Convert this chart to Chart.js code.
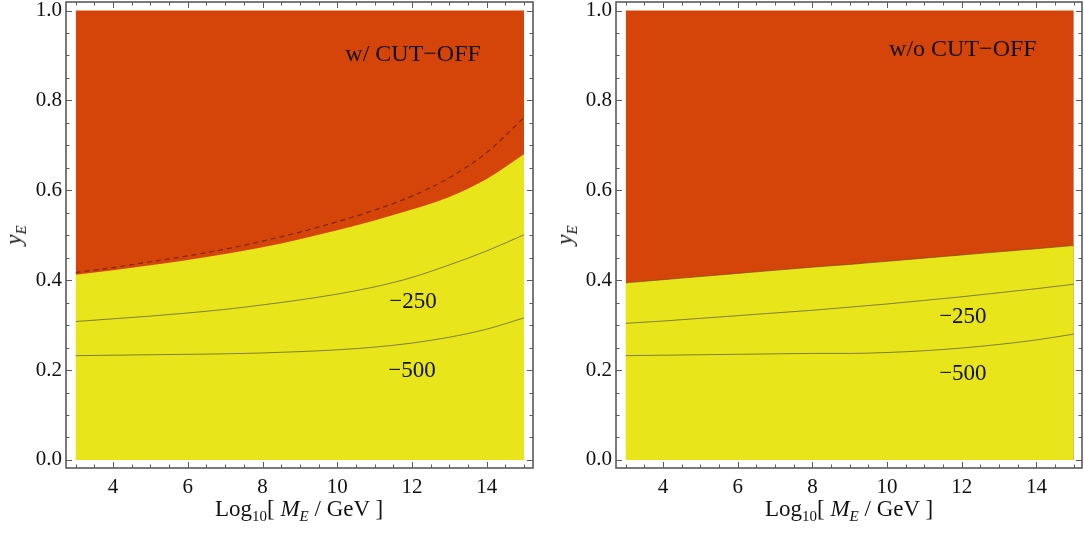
<!DOCTYPE html>
<html>
<head>
<meta charset="utf-8">
<script src="https://cdn.jsdelivr.net/npm/chart.js@4.4.1/dist/chart.umd.min.js"></script>
<style>
    body { margin: 0; background: #fff; width: 1084px; height: 539px; position: relative; overflow: hidden; font-family: "Liberation Serif", serif; }
    canvas { position: absolute; top: 0; }
    .xtitle { position: absolute; top: 497px; font-size: 23px; line-height: 23px; white-space: nowrap; transform: translateX(-50%); color: #111; }
    .ytitle { position: absolute; font-size: 23px; line-height: 23px; white-space: nowrap; transform: translate(-50%, -50%) rotate(-90deg); color: #111; }
    sub { font-size: 15px; vertical-align: baseline; position: relative; top: 5px; }
</style>
</head>
<body>
<canvas id="leftChart" width="542" height="539" style="left:0"></canvas>
<canvas id="rightChart" width="542" height="539" style="left:542px"></canvas>

<div class="xtitle" style="left:299px">Log<sub>10</sub>[ <i>M<sub>E</sub></i> / GeV ]</div>
<div class="xtitle" style="left:849px">Log<sub>10</sub>[ <i>M<sub>E</sub></i> / GeV ]</div>
<div class="ytitle" style="left:15px; top:235px"><i>y<sub>E</sub></i></div>
<div class="ytitle" style="left:566px; top:235px"><i>y<sub>E</sub></i></div>

<script>
// x grid of Log10[M_E / GeV]
const xValues = [3, 4, 5, 6, 7, 8, 9, 10, 11, 12, 13, 14, 15];
const yTop = [1, 1, 1, 1, 1, 1, 1, 1, 1, 1, 1, 1, 1];

// Tick labels
const xTickLabels = [4, 6, 8, 10, 12, 14];
const yTickLabels = [0.0, 0.2, 0.4, 0.6, 0.8, 1.0];

// w/ CUT-OFF panel
const cutBoundary = [0.412, 0.422, 0.433, 0.445, 0.458, 0.473, 0.491, 0.511, 0.533, 0.557, 0.585, 0.625, 0.680];
const cutDashed   = [0.417, 0.428, 0.441, 0.454, 0.469, 0.487, 0.507, 0.530, 0.556, 0.587, 0.628, 0.684, 0.762];
const cut250      = [0.308, 0.314, 0.320, 0.327, 0.335, 0.345, 0.356, 0.369, 0.385, 0.406, 0.434, 0.465, 0.501];
const cut500      = [0.232, 0.233, 0.234, 0.235, 0.236, 0.238, 0.241, 0.245, 0.251, 0.260, 0.273, 0.291, 0.316];

// w/o CUT-OFF panel
const noCutBoundary = [0.394, 0.401, 0.408, 0.415, 0.422, 0.429, 0.435, 0.442, 0.449, 0.456, 0.463, 0.470, 0.477];
const noCut250      = [0.304, 0.309, 0.315, 0.321, 0.327, 0.333, 0.340, 0.347, 0.355, 0.363, 0.372, 0.381, 0.391];
const noCut500      = [0.232, 0.233, 0.234, 0.235, 0.236, 0.237, 0.237, 0.239, 0.243, 0.249, 0.257, 0.267, 0.280];

// Text labels
const panelTitles = ['w/ CUT\u2212OFF', 'w/o CUT\u2212OFF'];
const contourLabels = ['\u2212250', '\u2212500'];

const ORANGE = '#D5450A';
const YELLOW = '#E8E61A';
const FRAME = '#5a5a5a';

function toPoints(ys) {
    return xValues.map((x, i) => ({ x: x, y: ys[i] }));
}

// Frame with inward ticks on all four sides, plus text labels inside the plot
const framePlugin = {
    id: 'frame',
    afterDatasetsDraw(chart, args, opts) {
        const { ctx, chartArea: a, scales: { x, y } } = chart;
        ctx.save();
        ctx.strokeStyle = FRAME;
        ctx.lineWidth = 1;

        // x ticks every 0.5
        for (let v = 3; v <= 15.001; v += 0.5) {
            const px = Math.round(x.getPixelForValue(v)) + 0.5;
            const len = xTickLabels.some(t => Math.abs(t - v) < 1e-6) ? 6 : 3.5;
            ctx.beginPath();
            ctx.moveTo(px, a.bottom); ctx.lineTo(px, a.bottom - len);
            ctx.moveTo(px, a.top); ctx.lineTo(px, a.top + len);
            ctx.stroke();
        }
        // y ticks every 0.05
        for (let i = 0; i <= 20; i++) {
            const v = i * 0.05;
            const py = Math.round(y.getPixelForValue(v)) + 0.5;
            const len = (i % 4 === 0) ? 6 : 3.5;
            ctx.beginPath();
            ctx.moveTo(a.left, py); ctx.lineTo(a.left + len, py);
            ctx.moveTo(a.right, py); ctx.lineTo(a.right - len, py);
            ctx.stroke();
        }

        ctx.lineWidth = 1.6;
        ctx.strokeRect(a.left, a.top, a.right - a.left, a.bottom - a.top);

        // labels
        ctx.fillStyle = '#111';
        ctx.textAlign = 'center';
        ctx.textBaseline = 'middle';
        opts.labels.forEach(l => {
            ctx.font = l.size + 'px "Liberation Serif"';
            ctx.fillText(l.text, x.getPixelForValue(l.x), y.getPixelForValue(l.y));
        });
        ctx.restore();
    }
};

function makePanel(canvasId, opts) {
    const ctx = document.getElementById(canvasId).getContext('2d');

    const lineStyle = {
        fill: false,
        pointRadius: 0,
        borderWidth: 1,
        borderColor: 'rgba(70, 70, 50, 0.65)',
        cubicInterpolationMode: 'monotone'
    };

    const datasets = [
        {
            data: toPoints(yTop),
            fill: { value: 0 },
            backgroundColor: ORANGE,
            borderWidth: 0,
            pointRadius: 0,
            order: 10
        },
        {
            data: toPoints(opts.boundary),
            fill: { value: 0 },
            backgroundColor: YELLOW,
            borderWidth: opts.boundaryLine ? 1 : 0,
            borderColor: 'rgba(110, 60, 20, 0.6)',
            pointRadius: 0,
            cubicInterpolationMode: 'monotone',
            order: 9
        },
        Object.assign({ data: toPoints(opts.c250), order: 2 }, lineStyle),
        Object.assign({ data: toPoints(opts.c500), order: 2 }, lineStyle)
    ];

    if (opts.dashed) {
        datasets.push({
            data: toPoints(opts.dashed),
            fill: false,
            pointRadius: 0,
            borderWidth: 1.2,
            borderColor: 'rgba(100, 30, 10, 0.8)',
            borderDash: [5, 4],
            cubicInterpolationMode: 'monotone',
            order: 1
        });
    }

    const tickFont = { family: '"Liberation Serif"', size: 21 };

    return new Chart(ctx, {
        type: 'line',
        data: { datasets: datasets },
        options: {
            responsive: false,
            animation: false,
            events: [],
            layout: { padding: { top: 2, right: opts.padRight, bottom: 0, left: 0 } },
            plugins: {
                legend: { display: false },
                tooltip: { enabled: false },
                frame: { labels: opts.labels }
            },
            scales: {
                x: {
                    type: 'linear',
                    min: 2.74,
                    max: opts.xMax,
                    grid: { display: false, drawTicks: false },
                    border: { display: false },
                    ticks: { color: '#111', font: tickFont, padding: 7, maxRotation: 0 },
                    afterBuildTicks: axis => { axis.ticks = xTickLabels.map(v => ({ value: v })); },
                    afterFit: axis => {
                        axis.height = 71;
                        axis.paddingLeft = 0;
                        axis.paddingRight = 0;
                    }
                },
                y: {
                    type: 'linear',
                    min: -0.018,
                    max: 1.019,
                    grid: { display: false, drawTicks: false },
                    border: { display: false },
                    ticks: {
                        color: '#111',
                        font: tickFont,
                        padding: 4,
                        callback: v => v.toFixed(1)
                    },
                    afterBuildTicks: axis => { axis.ticks = yTickLabels.map(v => ({ value: v })); },
                    afterFit: axis => {
                        axis.width = opts.axisWidth;
                        axis.paddingTop = 0;
                        axis.paddingBottom = 0;
                    }
                }
            }
        },
        plugins: [framePlugin]
    });
}

makePanel('leftChart', {
    boundary: cutBoundary,
    dashed: cutDashed,
    c250: cut250,
    c500: cut500,
    boundaryLine: false,
    axisWidth: 66,
    padRight: 9,
    xMax: 15.24,
    labels: [
        { text: panelTitles[0], x: 12.03, y: 0.902, size: 24 },
        { text: contourLabels[0], x: 12.03, y: 0.352, size: 23 },
        { text: contourLabels[1], x: 12.0, y: 0.198, size: 23 }
    ]
});

makePanel('rightChart', {
    boundary: noCutBoundary,
    c250: noCut250,
    c500: noCut500,
    boundaryLine: true,
    axisWidth: 74,
    padRight: 2,
    xMax: 15.22,
    labels: [
        { text: panelTitles[1], x: 12.03, y: 0.913, size: 24 },
        { text: contourLabels[0], x: 12.03, y: 0.319, size: 23 },
        { text: contourLabels[1], x: 12.03, y: 0.1915, size: 23 }
    ]
});
</script>
</body>
</html>
